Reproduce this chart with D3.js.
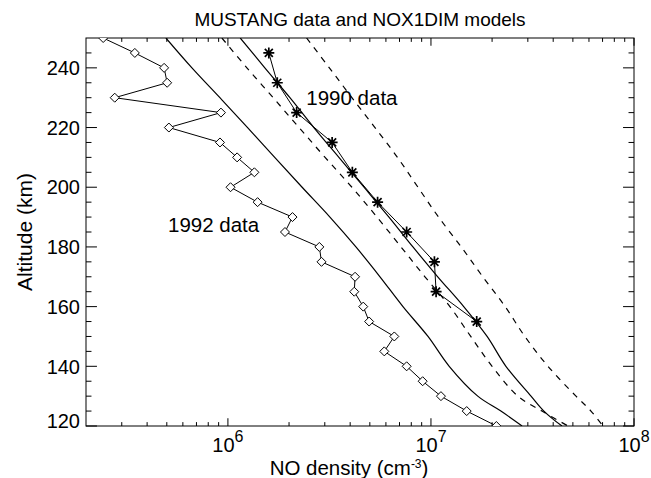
<!DOCTYPE html>
<html>
<head>
<meta charset="utf-8">
<script src="https://cdn.jsdelivr.net/npm/d3@7"></script>
<style>
  body { margin: 0; background: #fff; }
  svg text { font-family: "Liberation Sans", Arial, Helvetica, sans-serif; fill: #000; }
</style>
</head>
<body>
<svg id="chart" width="651" height="478"></svg>
<script>
// MUSTANG data (altitude km, NO density cm^-3)
const alt1992 = [250, 245, 240, 235, 230, 225, 220, 215, 210, 205, 200, 195, 190, 185, 180, 175, 170, 165, 160, 155, 150, 145, 140, 135, 130, 125, 120];
const no1992  = [2.43e5, 3.48e5, 4.85e5, 5.02e5, 2.77e5, 9.24e5, 5.12e5, 9.14e5, 1.11e6, 1.35e6, 1.03e6, 1.40e6, 2.08e6, 1.91e6, 2.82e6, 2.89e6, 4.23e6, 4.19e6, 4.64e6, 4.96e6, 6.6e6, 5.89e6, 7.59e6, 9.1e6, 1.12e7, 1.5e7, 2.1e7];

const alt1990 = [245, 235, 225, 215, 205, 195, 185, 175, 165, 155];
const no1990  = [1.59e6, 1.75e6, 2.18e6, 3.26e6, 4.1e6, 5.46e6, 7.59e6, 1.04e7, 1.06e7, 1.68e7];

// NOX1DIM model profiles
const modelAlt = [250, 240, 230, 220, 210, 200, 190, 180, 170, 160, 150, 140, 130, 125, 120];
const solidA  = [4.95e5, 6.65e5, 9.13e5, 1.25e6, 1.70e6, 2.32e6, 3.18e6, 4.27e6, 5.61e6, 7.28e6, 9.67e6, 1.23e7, 1.70e7, 2.21e7, 2.81e7];
const solidB  = [1.15e6, 1.52e6, 2.02e6, 2.65e6, 3.52e6, 4.68e6, 6.21e6, 8.15e6, 1.08e7, 1.45e7, 1.89e7, 2.34e7, 3.11e7, 3.60e7, 4.42e7];
const dashedA = [9.34e5, 1.24e6, 1.67e6, 2.24e6, 3.01e6, 4.08e6, 5.42e6, 7.12e6, 9.34e6, 1.24e7, 1.57e7, 2.00e7, 2.68e7, 3.52e7, 4.73e7];
const dashedB = [2.44e6, 3.16e6, 4.08e6, 5.30e6, 6.84e6, 8.63e6, 1.09e7, 1.41e7, 1.80e7, 2.32e7, 2.90e7, 3.77e7, 5.18e7, 6.14e7, 7.04e7];

const yTicks = [120, 140, 160, 180, 200, 220, 240];
const xTickExp = [6, 7, 8];

const svg = d3.select("#chart"),
      margin = {top: 38, right: 17, bottom: 52, left: 86},
      width = +svg.attr("width") - margin.left - margin.right,
      height = +svg.attr("height") - margin.top - margin.bottom,
      g = svg.append("g").attr("transform", "translate(" + margin.left + "," + margin.top + ")");

const x = d3.scaleLog().domain([2e5, 1e8]).range([0, width]);
const y = d3.scaleLinear().domain([120, 250]).range([height, 0]);

svg.append("defs").append("clipPath").attr("id", "clip")
  .append("rect").attr("width", width).attr("height", height);

// frame + inward ticks (IDL style)
const xMaj = height * 0.02, yMaj = width * 0.02;
const xMinor = [];
for (let e = 5; e < 8; e++) for (let m = 2; m <= 9; m++) {
  const v = m * Math.pow(10, e);
  if (v > 2e5 && v < 1e8) xMinor.push(v);
}
const yMinor = d3.range(125, 250, 5).filter(d => d % 20 !== 0);

const ax = g.append("g").attr("stroke", "#000").attr("stroke-width", 1);
xTickExp.forEach(e => {
  const px = x(Math.pow(10, e));
  ax.append("line").attr("x1", px).attr("x2", px).attr("y1", height).attr("y2", height - xMaj);
  ax.append("line").attr("x1", px).attr("x2", px).attr("y1", 0).attr("y2", xMaj);
});
xMinor.forEach(v => {
  const px = x(v);
  ax.append("line").attr("x1", px).attr("x2", px).attr("y1", height).attr("y2", height - xMaj / 2);
  ax.append("line").attr("x1", px).attr("x2", px).attr("y1", 0).attr("y2", xMaj / 2);
});
yTicks.forEach(v => {
  const py = y(v);
  ax.append("line").attr("x1", 0).attr("x2", yMaj).attr("y1", py).attr("y2", py);
  ax.append("line").attr("x1", width).attr("x2", width - yMaj).attr("y1", py).attr("y2", py);
});
yMinor.forEach(v => {
  const py = y(v);
  ax.append("line").attr("x1", 0).attr("x2", yMaj / 2).attr("y1", py).attr("y2", py);
  ax.append("line").attr("x1", width).attr("x2", width - yMaj / 2).attr("y1", py).attr("y2", py);
});
g.append("rect").attr("width", width).attr("height", height)
  .attr("fill", "none").attr("stroke", "#000").attr("stroke-width", 1);

// tick labels
yTicks.forEach(v => {
  g.append("text").attr("x", -6).attr("y", y(v) - (v === 120 ? 5 : 0)).attr("dy", "0.36em")
    .attr("text-anchor", "end").style("font-size", "20px").text(v);
});
xTickExp.forEach(e => {
  const t = g.append("text").attr("x", x(Math.pow(10, e))).attr("y", height + 26)
    .attr("text-anchor", "middle").style("font-size", "20px");
  t.append("tspan").text("10");
  t.append("tspan").attr("dy", -10).style("font-size", "16px").text(e);
});

// axis titles
const xl = svg.append("text").attr("x", 349).attr("y", 475)
  .attr("text-anchor", "middle").style("font-size", "20.5px");
xl.append("tspan").text("NO density (cm");
xl.append("tspan").attr("dy", -7).style("font-size", "12px").text("-3");
xl.append("tspan").attr("dy", 7).text(")");

svg.append("text").attr("transform", "translate(32," + (margin.top + height / 2) + ") rotate(-90)")
  .attr("text-anchor", "middle").style("font-size", "21px").text("Altitude (km)");

svg.append("text").attr("x", margin.left + width / 2).attr("y", 26).attr("text-anchor", "middle")
  .style("font-size", "19px").text("MUSTANG data and NOX1DIM models");

// plot area
const plot = g.append("g").attr("clip-path", "url(#clip)");

const model = d3.line().curve(d3.curveCatmullRom)
  .x(d => x(d[0])).y(d => y(d[1]));

[[solidA, null], [solidB, null], [dashedA, "6,6"], [dashedB, "6,6"]].forEach(([vals, dash]) => {
  plot.append("path")
    .datum(vals.map((v, i) => [v, modelAlt[i]]))
    .attr("fill", "none").attr("stroke", "#000").attr("stroke-width", 1.2)
    .attr("stroke-dasharray", dash)
    .attr("d", model);
});

const dataLine = d3.line().x(d => x(d[0])).y(d => y(d[1]));

// 1992 data: diamonds
const d92 = no1992.map((v, i) => [v, alt1992[i]]);
plot.append("path").datum(d92).attr("fill", "none").attr("stroke", "#000").attr("stroke-width", 1).attr("d", dataLine);
plot.selectAll(".dia").data(d92).enter().append("path")
  .attr("class", "dia")
  .attr("transform", d => "translate(" + x(d[0]) + "," + y(d[1]) + ")")
  .attr("d", "M0,-4.5L4.5,0L0,4.5L-4.5,0Z")
  .attr("fill", "#fff").attr("stroke", "#000").attr("stroke-width", 1);

// 1990 data: asterisks
const d90 = no1990.map((v, i) => [v, alt1990[i]]);
plot.append("path").datum(d90).attr("fill", "none").attr("stroke", "#000").attr("stroke-width", 1).attr("d", dataLine);
plot.selectAll(".ast").data(d90).enter().append("path")
  .attr("class", "ast")
  .attr("transform", d => "translate(" + x(d[0]) + "," + y(d[1]) + ")")
  .attr("d", "M-5.5,0H5.5M0,-5.5V5.5M-4,-4L4,4M-4,4L4,-4")
  .attr("fill", "none").attr("stroke", "#000").attr("stroke-width", 1.7);

// annotations
g.append("text").attr("x", x(8.5e5)).attr("y", y(185)).attr("text-anchor", "middle")
  .style("font-size", "20.5px").text("1992 data");
g.append("text").attr("x", x(4.08e6)).attr("y", y(227.7)).attr("text-anchor", "middle")
  .style("font-size", "20.5px").text("1990 data");
</script>
</body>
</html>
